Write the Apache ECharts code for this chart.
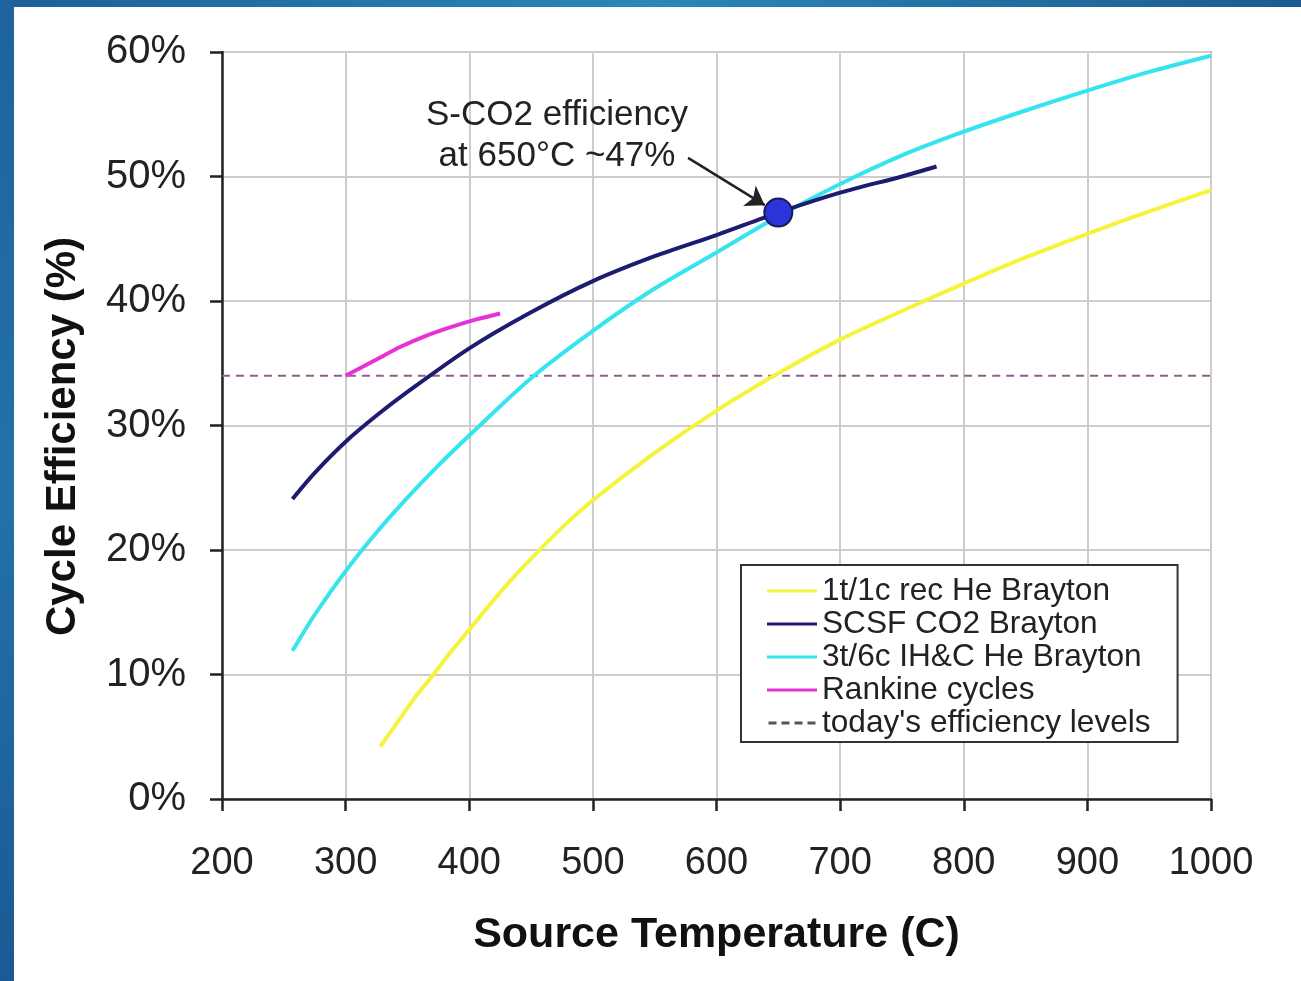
<!DOCTYPE html>
<html>
<head>
<meta charset="utf-8">
<script src="https://cdn.jsdelivr.net/npm/echarts@6/dist/echarts.min.js"></script>
<style>
html,body{margin:0;padding:0;background:#fff;}
#c{width:1301px;height:981px;}
</style>
</head>
<body>
<div id="c"></div>
<script>
// ---- data ----
const xTicks = [200, 300, 400, 500, 600, 700, 800, 900, 1000];
const yTicks = [0, 10, 20, 30, 40, 50, 60];

const heX = [328, 340, 355, 371, 385, 400, 425, 450, 475, 500, 550, 600, 650, 700, 750, 800, 850, 900, 950, 1000];
const heY = [4.2, 5.9, 8.0, 10.0, 11.8, 13.6, 16.6, 19.3, 21.8, 24.0, 27.8, 31.2, 34.2, 36.9, 39.2, 41.4, 43.5, 45.4, 47.2, 48.9];

const co2X = [257, 275, 300, 325, 350, 400, 450, 500, 550, 600, 650, 700, 750, 778];
const co2Y = [24.1, 26.2, 28.7, 30.8, 32.7, 36.2, 39.1, 41.6, 43.6, 45.3, 47.1, 48.7, 50.0, 50.8];

const ihcX = [257, 275, 300, 325, 350, 375, 400, 450, 500, 550, 600, 650, 700, 750, 800, 850, 900, 950, 1000];
const ihcY = [11.9, 14.8, 18.3, 21.4, 24.2, 26.8, 29.2, 33.8, 37.6, 41.0, 43.9, 46.8, 49.4, 51.7, 53.6, 55.3, 56.9, 58.4, 59.7];

const rankX = [300, 325, 344, 365, 385, 405, 425];
const rankY = [34.0, 35.3, 36.3, 37.2, 37.9, 38.5, 39.0];

const todayX = [200, 1000];
const todayY = [34.0, 34.0];

const highlight = [650, 47.1];
const arrowFrom = [577, 51.5];
const arrowTo = [639, 47.7];

const names = ['1t/1c rec He Brayton', 'SCSF CO2 Brayton', '3t/6c IH&C He Brayton', 'Rankine cycles', "today's efficiency levels"];

const zip = (xs, ys) => xs.map((x, i) => [x, ys[i]]);

const FONT = '"Liberation Sans", Arial, sans-serif';
const SOLID_ICON = 'path://M0,0L50,0L50,3L0,3Z';
const DASH_ICON = 'path://M0,0L8,0L8,3L0,3ZM13,0L21,0L21,3L13,3ZM26,0L34,0L34,3L26,3ZM39,0L47,0L47,3L39,3Z';

const chart = echarts.init(document.getElementById('c'));

function lineSeries(name, data, color, width, type, z) {
  return {
    name, type: 'line', data, showSymbol: false, symbol: 'none',
    smooth: 0.3,
    lineStyle: { color, width, type: type || 'solid' }, itemStyle: { color },
    z: z || 2, silent: true, animation: false
  };
}

const option = {
  animation: false,
  backgroundColor: '#ffffff',
  textStyle: { fontFamily: FONT },
  grid: { left: 222, right: 90, top: 52, bottom: 182, show: true, borderColor: '#8c8c8c', borderWidth: 2, containLabel: false },
  xAxis: {
    type: 'value', min: 200, max: 1000, interval: 100,
    name: 'Source Temperature (C)', nameLocation: 'middle', nameGap: 115,
    nameTextStyle: { fontSize: 43, fontWeight: 'bold', color: '#111', fontFamily: FONT },
    axisLine: { show: true, onZero: false, lineStyle: { color: '#222', width: 2.5 } },
    axisTick: { show: true, inside: false, length: 12, lineStyle: { color: '#222', width: 2.5 } },
    axisLabel: { fontSize: 38, color: '#222', margin: 46, fontFamily: FONT,
      formatter: v => xTicks.includes(v) ? String(v) : '' },
    splitLine: { show: true, lineStyle: { color: '#cdcdcd', width: 2 } }
  },
  yAxis: {
    type: 'value', min: 0, max: 60, interval: 10,
    name: 'Cycle Efficiency (%)', nameLocation: 'middle', nameGap: 138, nameRotate: 90,
    nameTextStyle: { fontSize: 42, fontWeight: 'bold', color: '#111', fontFamily: FONT, padding: [0, 22, 0, 0] },
    axisLine: { show: true, onZero: false, lineStyle: { color: '#222', width: 2.5 } },
    axisTick: { show: true, inside: false, length: 12, lineStyle: { color: '#222', width: 2.5 } },
    axisLabel: { fontSize: 40, color: '#222', margin: 36, fontFamily: FONT, padding: [8, 0, 0, 0],
      formatter: v => yTicks.includes(v) ? v + '%' : '' },
    splitLine: { show: true, lineStyle: { color: '#cdcdcd', width: 2 } }
  },
  legend: {
    orient: 'vertical', left: 741, top: 565,
    data: [
      { name: names[0], icon: SOLID_ICON },
      { name: names[1], icon: SOLID_ICON },
      { name: names[2], icon: SOLID_ICON },
      { name: names[3], icon: SOLID_ICON },
      { name: names[4], icon: DASH_ICON, itemStyle: { color: '#555' } }
    ],
    itemWidth: 50, itemHeight: 3, itemGap: 1, itemTextGap: 7,
    padding: [10, 27, 3, 26],
    borderColor: '#333', borderWidth: 2, backgroundColor: '#fff',
    textStyle: { fontSize: 31.6, color: '#222', fontFamily: FONT, lineHeight: 31 },
    selectedMode: false
  },
  graphic: [
    { type: 'rect', shape: { x: 0, y: 0, width: 1301, height: 7 }, z: 100,
      style: { fill: new echarts.graphic.LinearGradient(0, 0, 1, 0, [
        { offset: 0, color: '#1d5f98' }, { offset: 0.5, color: '#2a88b6' }, { offset: 1, color: '#1d5a92' }]) } },
    { type: 'rect', shape: { x: 0, y: 0, width: 14, height: 981 }, z: 100,
      style: { fill: new echarts.graphic.LinearGradient(0, 0, 0, 1, [
        { offset: 0, color: '#1e639b' }, { offset: 0.5, color: '#2272a8' }, { offset: 1, color: '#1b5a94' }]) } },
    { type: 'text', z: 50, x: 557, y: 95,
      style: { text: 'S-CO2 efficiency\nat 650°C ~47%', font: '35px ' + FONT, fill: '#222',
        textAlign: 'center', lineHeight: 41 } }
  ],
  series: [
    lineSeries(names[0], zip(heX, heY), '#f4f43c', 4, 'solid', 2),
    lineSeries(names[1], zip(co2X, co2Y), '#1c1c70', 4, 'solid', 3),
    lineSeries(names[2], zip(ihcX, ihcY), '#35e4ee', 4, 'solid', 2),
    lineSeries(names[3], zip(rankX, rankY), '#e633d6', 4, 'solid', 3),
    lineSeries(names[4], zip(todayX, todayY), '#8a5f8c', 2, [8, 6], 1),
    {
      type: 'scatter', data: [highlight], symbolSize: 28, z: 5, silent: true,
      itemStyle: { color: '#2b34d8', borderColor: '#1a1a5c', borderWidth: 2, opacity: 1 },
      markLine: {
        silent: true, symbol: ['none', 'arrow'], symbolSize: 18, animation: false,
        lineStyle: { color: '#222', width: 2.5, type: 'solid', opacity: 1 },
        label: { show: false },
        emphasis: { disabled: true },
        data: [[{ coord: arrowFrom }, { coord: arrowTo }]]
      }
    }
  ]
};
chart.setOption(option);
</script>
</body>
</html>
